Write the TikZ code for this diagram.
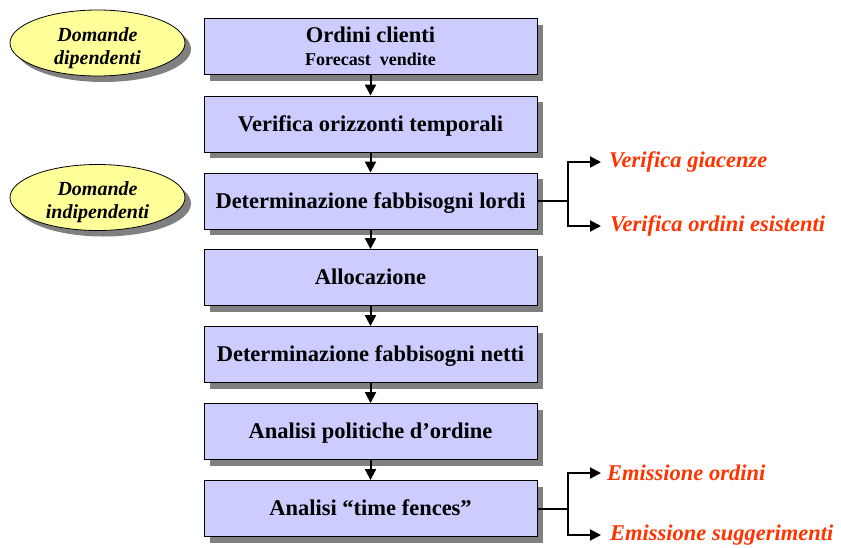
\documentclass[tikz,border=0pt]{standalone}
\usepackage{fontspec}
\setmainfont{Liberation Serif}
\usetikzlibrary{shadows,arrows.meta,shapes.geometric}
\definecolor{boxfill}{RGB}{204,204,255}
\definecolor{ovalfill}{RGB}{255,255,153}
\definecolor{outred}{RGB}{255,51,0}
\definecolor{shade}{RGB}{128,128,128}
\begin{document}
\begin{tikzpicture}[x=1pt,y=-1pt,
  stepbox/.style={draw=black,line width=0.9pt,fill=boxfill,minimum width=333pt,minimum height=56pt,
    inner sep=0pt,align=center,font=\fontsize{22.5}{24}\selectfont\bfseries,
    drop shadow={shadow xshift=6pt,shadow yshift=-6pt,fill=shade,opacity=1}},
  onerow/.style={text height=14pt,text depth=0pt},
  oval/.style={ellipse,draw=black,line width=0.8pt,fill=ovalfill,minimum width=175pt,minimum height=66pt,
    inner sep=0pt,
    drop shadow={shadow xshift=6pt,shadow yshift=-6pt,fill=shade,opacity=1}},
  ovaltext/.style={inner sep=0pt,align=center,font=\fontsize{20}{23}\selectfont\bfseries\itshape},
  outtext/.style={anchor=west,inner sep=0pt,text=outred,font=\fontsize{22.5}{24}\selectfont\bfseries\itshape},
  link/.style={line width=2pt},
  flow/.style={line width=2pt,-{Triangle[length=11pt,width=11pt]}}]
\useasboundingbox (0,0) rectangle (841,547);

\node[stepbox] (b1) at (370.5,46.5) {Ordini clienti\\[-1pt]{\fontsize{18}{19}\selectfont Forecast\ \ vendite}};
\node[stepbox,onerow] (b2) at (370.5,124) {Verifica orizzonti temporali};
\node[stepbox,onerow] (b3) at (370.5,201) {Determinazione fabbisogni lordi};
\node[stepbox,onerow] (b4) at (370.5,277.5) {Allocazione};
\node[stepbox,onerow] (b5) at (370.5,354.5) {Determinazione fabbisogni netti};
\node[stepbox,onerow] (b6) at (370.5,431.5) {Analisi politiche d’ordine};
\node[stepbox,onerow] (b7) at (370.5,508.5) {Analisi “time fences”};

\node[oval] (o1) at (97.5,43) {};
\node[ovaltext] (t1) at (97.5,48) {Domande\\dipendenti};
\node[oval] (o2) at (97.5,197.5) {};
\node[ovaltext] (t2) at (97.5,202.5) {Domande\\indipendenti};

\foreach \a/\b in {b1/b2,b2/b3,b3/b4,b4/b5,b5/b6,b6/b7}
  \draw[flow] (\a.south) -- (\b.north);

\node[outtext] (r1) at (609,162) {Verifica giacenze};
\node[outtext] (r2) at (610,226) {Verifica ordini esistenti};
\node[outtext] (r3) at (607,473) {Emissione ordini};
\node[outtext] (r4) at (610,535) {Emissione suggerimenti};

\coordinate (j1) at (568,201);
\coordinate (j2) at (568,508.5);
\draw[link] (b3.east) -- (j1);
\draw[flow] (j1) |- ([xshift=-8pt]r1.west);
\draw[flow] (j1) |- ([xshift=-9pt]r2.west);
\draw[link] (b7.east) -- (j2);
\draw[flow] (j2) |- ([xshift=-6pt]r3.west);
\draw[flow] (j2) |- ([xshift=-9pt]r4.west);
\end{tikzpicture}
\end{document}
